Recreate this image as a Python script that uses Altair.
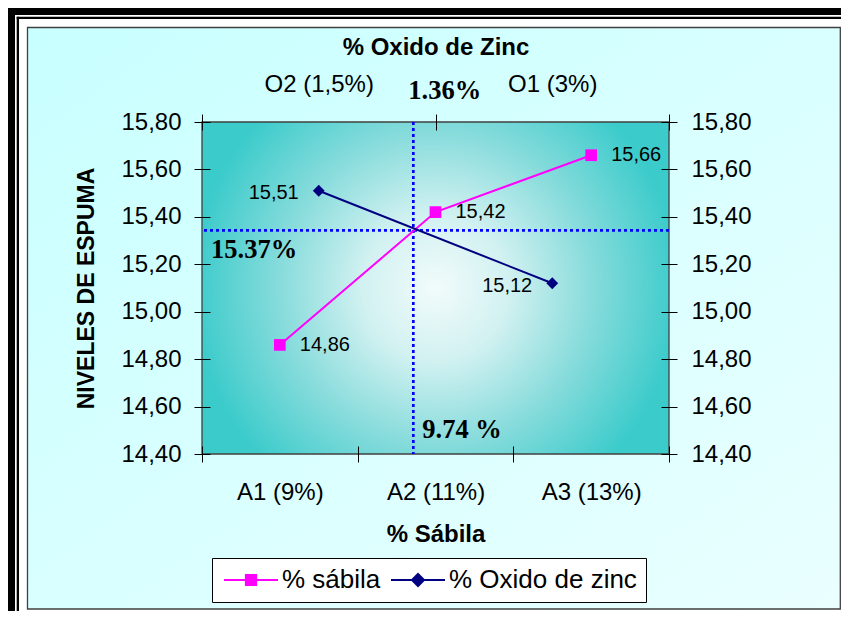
import altair as alt
import pandas as pd

# ---------------- data ----------------
sabila_cats = ["A1 (9%)", "A2 (11%)", "A3 (13%)"]
sabila_vals = [14.86, 15.42, 15.66]
oxido_cats = ["O2 (1,5%)", "O1 (3%)"]
oxido_vals = [15.51, 15.12]
y_ticks = [14.40, 14.60, 14.80, 15.00, 15.20, 15.40, 15.60, 15.80]
sabila_pct_domain = [8, 14]      # % sábila: A1=9, A2=11, A3=13 at band centres
cross_sabila = 10.715            # where the two lines cross (% sábila)
cross_nivel = 15.343             # where the two lines cross (nivel de espuma)
annot_top = "1.36%"
annot_left = "15.37%"
annot_bottom = "9.74 %"
series_names = ["% sábila", "% Oxido de zinc"]
x_title = "% Sábila"
x2_title = "% Oxido de Zinc"
y_title = "NIVELES DE ESPUMA"

# ---------------- style ----------------
SANS = "Liberation Sans"
SERIF = "Liberation Serif"
PINK = "#FF00FF"
NAVY = "#000080"
DOT = "#0000FF"
W, H = 467, 332
PAD = {"left": 194, "top": 114, "right": 172, "bottom": 157}
RIGHT = W + PAD["right"]      # svg right edge, relative to plot origin
BOTTOM = H + PAD["bottom"]    # svg bottom edge, relative to plot origin

one = pd.DataFrame({"k": [0]})


def deco(x, x2, y, y2, **mark):
    return alt.Chart(one).mark_rect(**mark).encode(
        x=alt.value(x), x2=alt.value(x2), y=alt.value(y), y2=alt.value(y2)
    )


# double black frame (strips) around the chart
frame = [
    deco(-195, RIGHT, -115, -107, color="black"),          # outer top
    deco(-195, -187, -115, BOTTOM, color="black"),         # outer left
    deco(-185.3, RIGHT, -105.3, -103, color="black"),      # inner top
    deco(-185.3, -183, -105.3, BOTTOM, color="black"),     # inner left
]
frame_cyan = deco(
    -174.5, RIGHT - 0.7, -94.5, BOTTOM - 2,
    fill=alt.LinearGradient(
        gradient="linear", x1=0, y1=0, x2=1, y2=1,
        stops=[alt.GradientStop(offset=0, color="#C8FFFF"),
               alt.GradientStop(offset=1, color="#EAFFFF")],
    ),
    stroke="#404040", strokeWidth=1.3,
)

plot_bg = alt.Chart(one).mark_rect(
    fill=alt.RadialGradient(
        gradient="radial", x1=0.5, y1=0.5, r1=0, x2=0.5, y2=0.5, r2=0.52,
        stops=[alt.GradientStop(offset=0, color="#F2FBFB"),
               alt.GradientStop(offset=0.3, color="#D2F1F1"),
               alt.GradientStop(offset=0.65, color="#86DBDB"),
               alt.GradientStop(offset=1, color="#3CCBCB")],
    ),
    stroke="#404040", strokeWidth=1.3,
).encode(x=alt.value(0), x2=alt.value("width"), y=alt.value(0), y2=alt.value("height"))


def axis(**kw):
    base = dict(labelFont=SANS, labelFontSize=24, labelColor="black",
                tickColor="black", tickWidth=1, tickSize=16, offset=-8,
                domain=False, grid=False, zindex=1,
                titleFont=SANS, titleColor="black", titleFontWeight="bold")
    base.update(kw)
    return alt.Axis(**base)


ylab = "replace(format(datum.value, '.2f'), '.', ',')"
ax_left = axis(orient="left", values=y_ticks, labelExpr=ylab, labelPadding=13,
               title=y_title, titleFontSize=23, titleAngle=270,
               titleBaseline="alphabetic", titleX=-116.7)
ax_right = axis(orient="right", values=y_ticks, labelExpr=ylab, labelPadding=14, title=None)
ax_bottom = axis(orient="bottom", tickBand="extent", labelAngle=0, labelPadding=18,
                 title=x_title, titleFontSize=24, titleBaseline="alphabetic", titleY=95.7)
ax_top = axis(orient="top", tickBand="extent", labelAngle=0, labelPadding=18,
              title=x2_title, titleFontSize=24, titleBaseline="alphabetic", titleY=-75.5)

y_scale = alt.Scale(domain=[y_ticks[0], y_ticks[-1]], nice=False, zero=False)
val_lbl = "replace(format(datum.v, '.2f'), '.', ',')"

# ---- % sábila series (bottom / left axes)
pink_df = pd.DataFrame({"cat": sabila_cats, "v": sabila_vals})
pink_base = alt.Chart(pink_df).encode(
    x=alt.X("cat:N", scale=alt.Scale(type="band", domain=sabila_cats, paddingInner=0, paddingOuter=0),
            bandPosition=0.5, axis=ax_bottom),
    y=alt.Y("v:Q", scale=y_scale, axis=ax_left),
)
pink = alt.layer(
    pink_base.mark_line(color=PINK, strokeWidth=2),
    pink_base.mark_square(color=PINK, size=137, opacity=1),
    pink_base.mark_text(align="left", baseline="middle", dx=20, font=SANS, fontSize=20, color="black")
    .transform_calculate(lbl=val_lbl).encode(text="lbl:N"),
)

# ---- % óxido de zinc series (top / right axes)
navy_df = pd.DataFrame({"cat": oxido_cats, "v": oxido_vals})
navy_base = alt.Chart(navy_df).encode(
    x=alt.X("cat:N", scale=alt.Scale(type="band", domain=oxido_cats, paddingInner=0, paddingOuter=0),
            bandPosition=0.5, axis=ax_top),
    y=alt.Y("v:Q", scale=y_scale, axis=ax_right),
)
navy = alt.layer(
    navy_base.mark_line(color=NAVY, strokeWidth=2),
    navy_base.mark_point(shape="diamond", filled=True, color=NAVY, size=140, opacity=1),
    navy_base.mark_text(align="right", baseline="middle", dx=-20, dy=2.5, font=SANS, fontSize=20, color="black")
    .transform_calculate(lbl=val_lbl).encode(text="lbl:N"),
)

# ---- crossing lines and annotations
ax_x = alt.X("x:Q", scale=alt.Scale(domain=sabila_pct_domain, nice=False, zero=False), axis=None)
ax_y = alt.Y("y:Q", scale=y_scale, axis=None)
rule_style = dict(color=DOT, strokeWidth=2.7, strokeDash=[3, 3])
txt_style = dict(font=SERIF, fontWeight="bold", fontSize=26.5, align="left",
                 baseline="alphabetic", color="black")

vrule = alt.Chart(pd.DataFrame({"x": [cross_sabila]})).mark_rule(**rule_style).encode(x=ax_x)
hrule = alt.Chart(pd.DataFrame({"y": [cross_nivel]})).mark_rule(**rule_style).encode(y=ax_y)
t_top = alt.Chart(pd.DataFrame({"x": [cross_sabila], "y": [y_ticks[-1]], "t": [annot_top]})) \
    .mark_text(dx=-5, dy=-23, **txt_style).encode(x=ax_x, y=ax_y, text="t:N")
t_left = alt.Chart(pd.DataFrame({"x": [sabila_pct_domain[0]], "y": [cross_nivel], "t": [annot_left]})) \
    .mark_text(dx=9, dy=28, **txt_style).encode(x=ax_x, y=ax_y, text="t:N")
t_bottom = alt.Chart(pd.DataFrame({"x": [cross_sabila], "y": [y_ticks[0]], "t": [annot_bottom]})) \
    .mark_text(dx=9, dy=-16, **txt_style).encode(x=ax_x, y=ax_y, text="t:N")
annot = alt.layer(vrule, hrule, t_top, t_left, t_bottom)

# ---- legend (line + marker symbols)
SQ = "M-4.5,0L4.5,0M-0.85,-0.85L0.85,-0.85L0.85,0.85L-0.85,0.85Z"
DIA = "M-4.5,0L4.5,0M0,-1L1,0L0,1L-1,0Z"
leg = alt.Legend(orient="none", legendX=10, legendY=436, direction="horizontal", title=None,
                 fillColor="white", strokeColor="black", padding=9,
                 labelFont=SANS, labelFontSize=26, labelColor="black", labelLimit=400,
                 symbolSize=144, symbolOffset=17, labelOffset=18, columnPadding=6,
                 symbolStrokeWidth=2, symbolOpacity=1)
legend_layer = alt.Chart(pd.DataFrame({"series": series_names})).mark_point(
    filled=True, strokeWidth=2
).encode(
    fill=alt.Fill("series:N", scale=alt.Scale(domain=series_names, range=[PINK, NAVY]), legend=leg),
    stroke=alt.Stroke("series:N", scale=alt.Scale(domain=series_names, range=[PINK, NAVY]), legend=leg),
    shape=alt.Shape("series:N", scale=alt.Scale(domain=series_names, range=[SQ, DIA]), legend=leg),
).transform_filter("false")

chart = alt.layer(
    *frame, frame_cyan, plot_bg, annot, pink, navy, legend_layer
).resolve_scale(
    x="independent"
).resolve_axis(
    x="independent", y="independent"
).properties(
    width=W, height=H,
    autosize=alt.AutoSizeParams(type="none"),
    padding=PAD,
    background="white",
).configure_view(strokeWidth=0)

chart.save("out.html", embed_options={"renderer": "svg", "actions": False})
